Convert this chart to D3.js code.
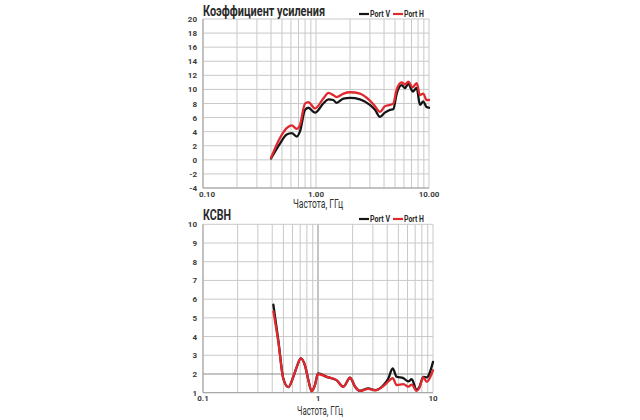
<!DOCTYPE html>
<html><head><meta charset="utf-8">
<script src="https://cdn.jsdelivr.net/npm/d3@7"></script>
<style>
html,body{margin:0;padding:0;background:#fff;}
svg{display:block;}
text{font-family:Roboto,"Liberation Sans",sans-serif;}
</style></head>
<body>
<svg id="c" width="640" height="420"></svg>
<script>
// ---- data ----
const gainFreq = [0.40,0.48,0.55,0.61,0.675,0.72,0.80,0.855,0.98,1.16,1.29,1.42,1.52,1.75,2.0,2.45,3.0,3.33,3.68,4.07,4.52,4.83,5.18,5.73,6.13,6.56,7.18,7.78,8.32,8.91,9.5,10.0];
const gainV = [0.2,2.3,3.6,3.8,3.3,4.0,7.1,7.4,6.7,8.0,8.6,8.5,8.1,8.7,8.8,8.6,7.8,7.1,6.1,6.7,7.1,7.2,9.4,10.6,10.2,10.8,9.7,10.2,7.8,8.3,7.5,7.4];
const gainH = [0.3,3.1,4.5,4.9,4.4,4.9,8.0,8.2,7.3,8.7,9.5,9.2,8.9,9.4,9.6,9.4,8.4,7.6,6.8,7.6,7.8,8.0,10.0,11.0,10.7,11.1,10.3,10.9,9.2,9.4,8.5,8.5];

const vswrFreq = [0.409,0.452,0.499,0.552,0.61,0.66,0.708,0.771,0.83,0.881,0.94,1.0,1.19,1.45,1.66,1.9,2.1,2.32,2.74,3.13,3.7,4.09,4.46,4.83,5.52,6.1,6.53,7.2,7.6,8.24,8.81,10.0];
const vswrV = [5.7,3.8,1.76,1.3,1.85,2.45,2.83,2.45,1.6,1.08,1.4,2.03,1.85,1.67,1.32,1.8,1.32,1.1,1.23,1.14,1.4,1.76,2.3,1.85,1.78,1.6,1.72,1.14,1.3,1.85,1.82,2.65];
const vswrH = [5.35,3.7,1.76,1.3,1.85,2.45,2.83,2.45,1.6,1.08,1.4,2.0,1.85,1.67,1.32,1.8,1.32,1.1,1.2,1.12,1.35,1.6,1.78,1.41,1.46,1.32,1.43,1.1,1.25,1.82,1.58,2.2];

const gainYTicks = [-4,-2,0,2,4,6,8,10,12,14,16,18,20];
const vswrYTicks = [1,2,3,4,5,6,7,8,9,10];
const gainXLabels = ["0.10","1.00","10.00"];
const vswrXLabels = ["0.1","1","10"];
const majorX = [0.1,1,10];
const seriesNames = ["Port V","Port H"];
const seriesColors = ["#151515","#e0282e"];
const xTitle = "Частота, ГГц";
const gainTitle = "Коэффициент усиления";
const vswrTitle = "КСВН";

const svg = d3.select("#c");
svg.append("rect").attr("width",640).attr("height",420).attr("fill","#fff");

function panel(o){
  const g = svg.append("g");
  const x = d3.scaleLog().domain([0.1,10]).range([o.x0,o.x1]);
  const y = d3.scaleLinear().domain(o.ydom).range([o.y1,o.y0]);
  g.selectAll(".vg").data(x.ticks()).join("line")
    .attr("x1",d=>x(d)).attr("x2",d=>x(d))
    .attr("y1",o.y0).attr("y2",o.y1)
    .attr("stroke",d=>(o.darkX && Math.abs(d-1)<1e-9)?"#8a8a8a":"#c9c9c9")
    .attr("stroke-width",1);
  g.selectAll(".hg").data(o.yticks).join("line")
    .attr("x1",o.x0).attr("x2",o.x1)
    .attr("y1",d=>y(d)).attr("y2",d=>y(d))
    .attr("stroke",d=>(o.darkY!==undefined && d===o.darkY)?"#8a8a8a":"#c9c9c9")
    .attr("stroke-width",1);
  g.append("line").attr("x1",o.x0).attr("x2",o.x0).attr("y1",o.y0).attr("y2",o.y1).attr("stroke","#a0a0a0");
  g.append("line").attr("x1",o.x0).attr("x2",o.x1).attr("y1",o.y1).attr("y2",o.y1).attr("stroke","#a0a0a0");
  g.selectAll(".yl").data(o.yticks).join("text")
    .attr("x",o.x0-6).attr("y",d=>y(d)+3)
    .attr("text-anchor","end").attr("font-size",8).attr("font-weight",700)
    .attr("fill","#3a3a3a").text(d=>d);
  g.selectAll(".xl").data(majorX).join("text")
    .attr("x",(d,i)=>x(d)+(i===0?o.firstShift:0)).attr("y",o.y1+8.5)
    .attr("text-anchor","middle").attr("font-size",8).attr("font-weight",700)
    .attr("fill","#3a3a3a").text((d,i)=>o.xlabels[i]);
  g.append("text").attr("x",o.xtX).attr("y",o.xtY).attr("text-anchor","middle")
    .attr("font-size",12).attr("fill","#333")
    .attr("textLength",o.xtW).attr("lengthAdjust","spacingAndGlyphs").text(xTitle);
  g.append("text").attr("x",o.x0).attr("y",o.titleY).attr("font-size",14.5).attr("font-weight",700)
    .attr("fill","#2a2a2a").attr("textLength",o.titleW).attr("lengthAdjust","spacingAndGlyphs").text(o.title);
  const lg = g.append("g");
  const lx = [359,393];
  seriesNames.forEach((n,i)=>{
    lg.append("line").attr("x1",lx[i]).attr("x2",lx[i]+10).attr("y1",o.legY).attr("y2",o.legY)
      .attr("stroke",seriesColors[i]).attr("stroke-width",2.2);
    lg.append("text").attr("x",lx[i]+11).attr("y",o.legY+3).attr("font-size",8.5).attr("font-weight",700)
      .attr("fill","#2a2a2a").attr("textLength",20).attr("lengthAdjust","spacingAndGlyphs").text(n);
  });
  const line = d3.line().x(d=>x(d[0])).y(d=>y(d[1])).curve(d3.curveMonotoneX);
  o.series.forEach((s,i)=>{
    g.append("path").datum(o.freq.map((f,j)=>[f,s[j]]))
      .attr("d",line).attr("fill","none").attr("stroke",seriesColors[i])
      .attr("stroke-width",2.3).attr("stroke-linejoin","round").attr("stroke-linecap","round");
  });
}

panel({x0:203,x1:429,y0:19,y1:188,ydom:[-4,20],yticks:gainYTicks,xlabels:gainXLabels,
  firstShift:4,xtX:318,xtY:208,xtW:50,title:gainTitle,titleY:16,titleW:122,legY:14,
  freq:gainFreq,series:[gainV,gainH],darkX:false});
panel({x0:203,x1:433,y0:224.3,y1:392.7,ydom:[1,10],yticks:vswrYTicks,xlabels:vswrXLabels,
  firstShift:0,xtX:320,xtY:415,xtW:46,title:vswrTitle,titleY:220,titleW:28,legY:219,
  freq:vswrFreq,series:[vswrV,vswrH],darkX:true,darkY:2});
</script>
</body></html>
